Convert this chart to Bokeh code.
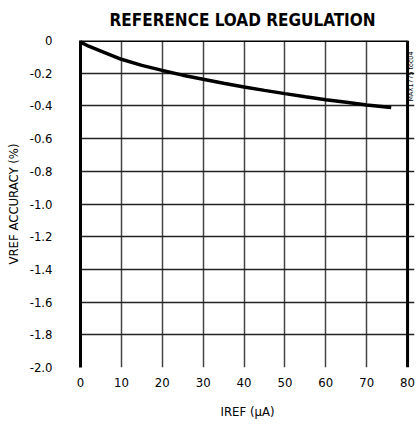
import math
from bokeh.plotting import figure
from bokeh.models import Range1d, FixedTicker, CustomJSTickFormatter, Span
from bokeh.embed import file_html
from bokeh.resources import INLINE

# Data
iref_ua = [0, 2, 5, 10, 15, 20, 25, 30, 35, 40, 45, 50, 55, 60, 65, 70, 76]
vref_acc = [-0.01, -0.035, -0.065, -0.115, -0.152, -0.183, -0.212, -0.237, -0.261,
            -0.284, -0.305, -0.325, -0.344, -0.362, -0.378, -0.394, -0.41]
x_ticks = [0, 10, 20, 30, 40, 50, 60, 70, 80]
y_ticks = [0, -0.2, -0.4, -0.6, -0.8, -1.0, -1.2, -1.4, -1.6, -1.8, -2.0]
note_text = "MAX1775 toc04"

FONT = "Liberation Sans Narrow, DejaVu Sans Condensed, Arial Narrow, sans-serif"

# frame spans 0..80 plus a small strip on the right for the side note
X_MAX = 80
X_END = 81.7

p = figure(width=415, height=422, output_backend="svg", toolbar_location=None,
           x_range=Range1d(0, X_END), y_range=Range1d(-2.0, 0),
           min_border_left=80, min_border_right=1, min_border_top=40, min_border_bottom=55,
           title="REFERENCE LOAD REGULATION")
p.outline_line_color = None
p.background_fill_color = "white"

p.title.align = "left"
p.title.offset = 29
p.title.vertical_align = "top"
p.title.text_font = FONT
p.title.text_font_style = "bold"
p.title.text_font_size = "17px"
p.title.text_color = "black"
p.title.standoff = 18

# axes
p.xaxis.ticker = FixedTicker(ticks=x_ticks)
p.xaxis.bounds = (0, X_MAX)
p.yaxis.ticker = FixedTicker(ticks=y_ticks)
p.yaxis.formatter = CustomJSTickFormatter(code="return tick == 0 ? '0' : tick.toFixed(1);")
for ax in (p.xaxis[0], p.yaxis[0]):
    ax.major_tick_out = 0
    ax.major_tick_in = 0
    ax.minor_tick_out = 0
    ax.minor_tick_in = 0
    ax.major_label_text_font = FONT
    ax.major_label_text_font_size = "13px"
    ax.major_label_text_color = "black"
    ax.axis_label_text_font = FONT
    ax.axis_label_text_font_size = "13px"
    ax.axis_label_text_font_style = "normal"
    ax.axis_label_text_color = "black"

p.xaxis.axis_line_color = None
p.xaxis.major_label_standoff = 10
p.xaxis.axis_label = "IREF (µA)"
p.xaxis.axis_label_standoff = 14

p.yaxis.axis_line_color = "black"
p.yaxis.axis_line_width = 3
p.yaxis.major_label_standoff = 28
p.yaxis.axis_label = "VREF ACCURACY (%)"
p.yaxis.axis_label_standoff = 6

# grid
p.xgrid.ticker = FixedTicker(ticks=x_ticks[1:-1])
p.ygrid.ticker = FixedTicker(ticks=y_ticks[1:-1])
p.ygrid.bounds = (0, X_MAX)
p.xgrid.grid_line_color = "#444444"
p.ygrid.grid_line_color = "#222222"
p.xgrid.grid_line_width = 1.5
p.ygrid.grid_line_width = 1.5

# borders (top and right)
p.segment(x0=[0], y0=[y_ticks[0]], x1=[X_MAX], y1=[y_ticks[0]], line_color="black", line_width=3)
p.add_layout(Span(location=X_MAX, dimension="height", line_color="black", line_width=3))

# curve
p.line(iref_ua, vref_acc, line_color="black", line_width=3.5)

# side note
p.text(x=[80.75], y=[-0.373], text=[note_text], angle=math.pi / 2,
       text_font={"value": FONT}, text_font_size="7px", text_color="black",
       text_align="left", text_baseline="middle")

open("out.html", "w").write(file_html(p, INLINE))
